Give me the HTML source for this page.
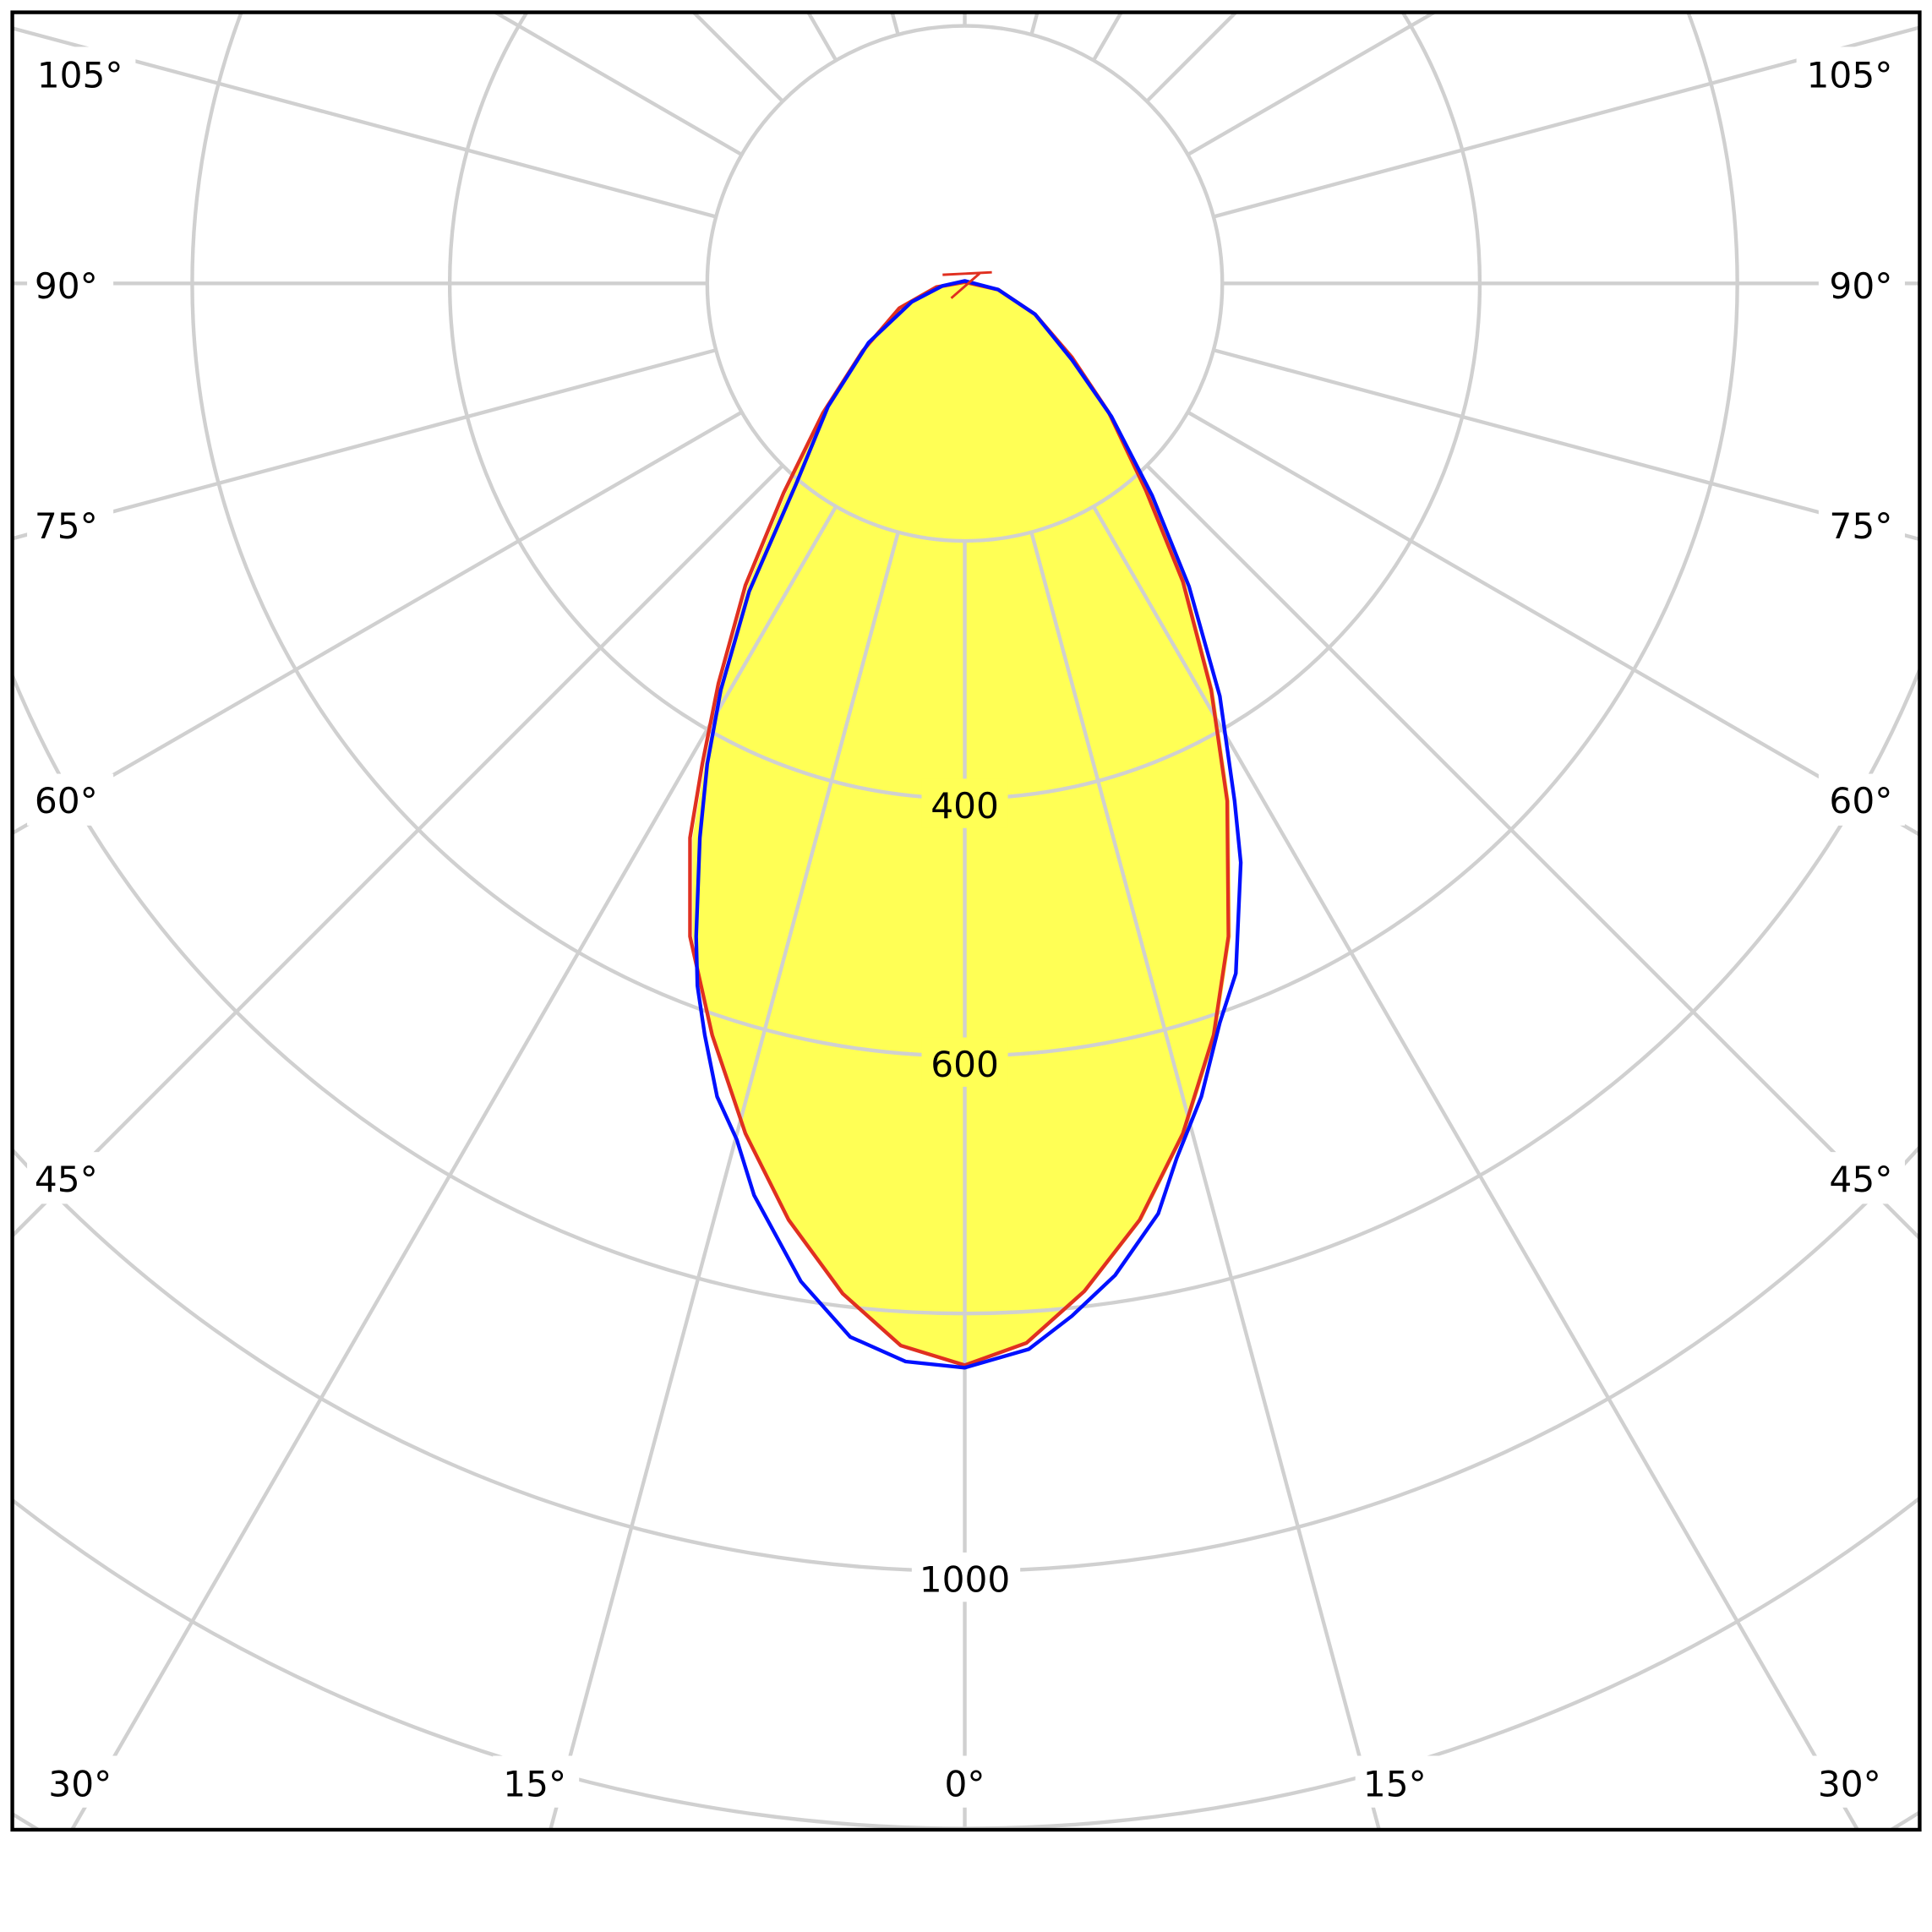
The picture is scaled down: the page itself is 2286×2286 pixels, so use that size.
<!DOCTYPE html>
<html><head><style>html,body{margin:0;padding:0;background:#fff;overflow:hidden;width:2286px;height:2286px}svg{display:block}</style></head>
<body>
<svg width="2286" height="2286" viewBox="0 0 1568 1568" xmlns="http://www.w3.org/2000/svg">
<defs><clipPath id="c"><rect x="10" y="10" width="1548" height="1475"/></clipPath></defs>
<rect width="1568" height="1568" fill="#fff"/>
<g clip-path="url(#c)">
<path fill="#ffff55" stroke="none" d="M783,229 L810,235 L840,255 L870,290 L900,335 L932,398 L962,472 L985,560 L998,650 L999,760 L987,840 L962,920 L927,990 L882,1048 L835,1090 L783,1108 L731,1092 L684,1050 L640,990 L605,920 L578,840 L562,760 L562,680 L572,620 L585,555 L607,475 L638,400 L668,335 L700,285 L730,250 L760,233 Z"/>
<g stroke="#d0d0d0" stroke-width="3" fill="none">
<circle cx="783" cy="230" r="209"/><circle cx="783" cy="230" r="418"/><circle cx="783" cy="230" r="627"/><circle cx="783" cy="230" r="836"/><circle cx="783" cy="230" r="1045"/><circle cx="783" cy="230" r="1254"/><circle cx="783" cy="230" r="1463"/>
<g transform="translate(783,230)">
<line x1="0" y1="209" x2="0" y2="2200"/>
<line x1="0" y1="209" x2="0" y2="2200" transform="rotate(15)"/><line x1="0" y1="209" x2="0" y2="2200" transform="rotate(-15)"/>
<line x1="0" y1="209" x2="0" y2="2200" transform="rotate(30)"/><line x1="0" y1="209" x2="0" y2="2200" transform="rotate(-30)"/>
<line x1="0" y1="209" x2="0" y2="2200" transform="rotate(45)"/><line x1="0" y1="209" x2="0" y2="2200" transform="rotate(-45)"/>
<line x1="0" y1="209" x2="0" y2="2200" transform="rotate(60)"/><line x1="0" y1="209" x2="0" y2="2200" transform="rotate(-60)"/>
<line x1="0" y1="209" x2="0" y2="2200" transform="rotate(75)"/><line x1="0" y1="209" x2="0" y2="2200" transform="rotate(-75)"/>
<line x1="0" y1="209" x2="0" y2="2200" transform="rotate(90)"/><line x1="0" y1="209" x2="0" y2="2200" transform="rotate(-90)"/>
<line x1="0" y1="209" x2="0" y2="2200" transform="rotate(105)"/><line x1="0" y1="209" x2="0" y2="2200" transform="rotate(-105)"/>
<line x1="0" y1="209" x2="0" y2="2200" transform="rotate(120)"/><line x1="0" y1="209" x2="0" y2="2200" transform="rotate(-120)"/>
<line x1="0" y1="209" x2="0" y2="2200" transform="rotate(135)"/><line x1="0" y1="209" x2="0" y2="2200" transform="rotate(-135)"/>
<line x1="0" y1="209" x2="0" y2="2200" transform="rotate(150)"/><line x1="0" y1="209" x2="0" y2="2200" transform="rotate(-150)"/>
<line x1="0" y1="209" x2="0" y2="2200" transform="rotate(165)"/><line x1="0" y1="209" x2="0" y2="2200" transform="rotate(-165)"/>
<line x1="0" y1="209" x2="0" y2="2200" transform="rotate(180)"/>
</g></g>
<path fill="none" stroke="#e03020" stroke-width="3" stroke-linejoin="round" d="M783,229 L810,235 L840,255 L870,290 L900,335 L930,398 L960,472 L983,560 L996,650 L997,760 L985,840 L960,920 L925,990 L880,1048 L833,1090 L783,1108 L731,1092 L684,1050 L640,990 L605,920 L578,840 L560,760 L560,680 L570,620 L583,555 L605,475 L636,400 L668,335 L700,285 L730,250 L760,233 Z"/>
<path fill="none" stroke="#0010ff" stroke-width="3" stroke-linejoin="round" d="M783,228 L810,235 L840,255 L870,292 L902,338 L935,402 L965,476 L990,565 L1002,650 L1007,700 L1003,790 L990,830 L975,890 L955,940 L940,985 L905,1035 L870,1068 L835,1095 L783,1110 L735,1105 L690,1085 L650,1040 L612,970 L598,925 L582,890 L572,840 L566,800 L565,760 L568,680 L574,620 L585,560 L608,480 L646,393 L672,330 L705,278 L740,245 L765,232 Z"/>
<path d="M765,223 L805,221 M772,242 L795,222" stroke="#e03020" stroke-width="2" fill="none"/>
</g>
<g font-family="DejaVu Sans, Liberation Sans, sans-serif" font-size="29" fill="#000">
<g fill="#fff">
<rect x="748" y="632" width="70" height="40" fill="#ffff55"/><rect x="748" y="842" width="70" height="40" fill="#ffff55"/><rect x="740" y="1260" width="88" height="40"/>
<rect x="22" y="38" width="88" height="42"/><rect x="22" y="210" width="70" height="42"/><rect x="22" y="405" width="70" height="42"/><rect x="22" y="628" width="70" height="42"/><rect x="22" y="935" width="70" height="42"/>
<rect x="1458" y="38" width="88" height="42"/><rect x="1476" y="210" width="70" height="42"/><rect x="1476" y="405" width="70" height="42"/><rect x="1476" y="628" width="70" height="42"/><rect x="1476" y="935" width="70" height="42"/>
<rect x="30" y="1425" width="70" height="42"/><rect x="400" y="1425" width="70" height="42"/><rect x="760" y="1425" width="50" height="42"/><rect x="1100" y="1425" width="70" height="42"/><rect x="1466" y="1425" width="70" height="42"/>
</g>
<text x="783" y="664" text-anchor="middle">400</text>
<text x="783" y="874" text-anchor="middle">600</text>
<text x="783" y="1292" text-anchor="middle">1000</text>
<text x="30" y="71">105°</text><text x="28" y="242">90°</text><text x="28" y="437">75°</text><text x="28" y="660">60°</text><text x="28" y="967">45°</text>
<text x="1536" y="71" text-anchor="end">105°</text><text x="1536" y="242" text-anchor="end">90°</text><text x="1536" y="437" text-anchor="end">75°</text><text x="1536" y="660" text-anchor="end">60°</text><text x="1536" y="967" text-anchor="end">45°</text>
<text x="65" y="1458" text-anchor="middle">30°</text><text x="434" y="1458" text-anchor="middle">15°</text><text x="783" y="1458" text-anchor="middle">0°</text><text x="1132" y="1458" text-anchor="middle">15°</text><text x="1501" y="1458" text-anchor="middle">30°</text>
</g>
<rect x="10" y="10" width="1548" height="1475" fill="none" stroke="#000" stroke-width="3"/>
</svg>
</body></html>
